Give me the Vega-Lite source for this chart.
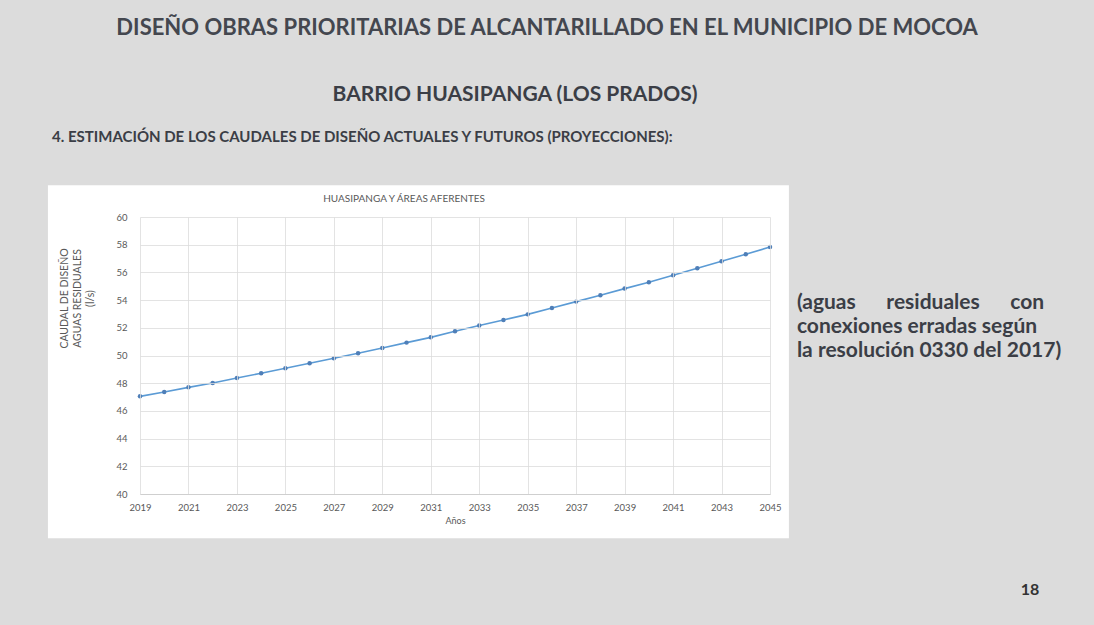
{
  "$schema": "https://vega.github.io/schema/vega-lite/v6.json",
  "width": 630,
  "height": 277,
  "autosize": {"type": "none"},
  "padding": {"left": 140, "top": 217, "right": 324, "bottom": 131},
  "background": "#dcdcdc",
  "config": {
    "view": {"stroke": null},
    "font": "Lato"
  },
  "resolve": {"axis": {"x": "independent", "y": "independent"}},
  "layer": [
    {
      "data": {"values": [{"panel": "chart"}]},
      "mark": {"type": "rect", "fill": "white"},
      "encoding": {
        "x": {"datum": 2015.2, "type": "quantitative", "scale": {"domain": [2019, 2045]}, "axis": null},
        "x2": {"datum": 2045.78},
        "y": {"datum": 62.29, "type": "quantitative", "scale": {"domain": [40, 60]}, "axis": null},
        "y2": {"datum": 36.8}
      }
    },
    {
      "data": {"values": [{"t": "DISEÑO OBRAS PRIORITARIAS DE ALCANTARILLADO EN EL MUNICIPIO DE MOCOA"}]},
      "mark": {"type": "text", "font": "Lato", "fontWeight": "bold", "fontSize": 22, "color": "#44474f", "align": "center", "baseline": "middle"},
      "encoding": {
        "x": {"datum": 2035.8, "type": "quantitative", "scale": {"domain": [2019, 2045]}, "axis": null},
        "y": {"datum": 73.62, "type": "quantitative", "scale": {"domain": [40, 60]}, "axis": null},
        "text": {"field": "t"}
      }
    },
    {
      "data": {"values": [{"t": "BARRIO HUASIPANGA (LOS PRADOS)"}]},
      "mark": {"type": "text", "font": "Lato", "fontWeight": "bold", "fontSize": 21, "color": "#3b3e46", "align": "center", "baseline": "middle"},
      "encoding": {
        "x": {"datum": 2034.48, "type": "quantitative", "scale": {"domain": [2019, 2045]}, "axis": null},
        "y": {"datum": 68.79, "type": "quantitative", "scale": {"domain": [40, 60]}, "axis": null},
        "text": {"field": "t"}
      }
    },
    {
      "data": {"values": [{"t": "4. ESTIMACIÓN DE LOS CAUDALES DE DISEÑO ACTUALES Y FUTUROS (PROYECCIONES):"}]},
      "mark": {"type": "text", "font": "Lato", "fontWeight": "bold", "fontSize": 15, "color": "#3b3e46", "align": "left", "baseline": "middle"},
      "encoding": {
        "x": {"datum": 2015.37, "type": "quantitative", "scale": {"domain": [2019, 2045]}, "axis": null},
        "y": {"datum": 65.75, "type": "quantitative", "scale": {"domain": [40, 60]}, "axis": null},
        "text": {"field": "t"}
      }
    },
    {
      "data": {"values": [{"t": ["(aguas\u00a0\u00a0\u00a0\u00a0\u00a0\u00a0residuales\u00a0\u00a0\u00a0\u00a0\u00a0\u00a0con", "conexiones erradas según", "la resolución 0330 del 2017)"]}]},
      "mark": {"type": "text", "font": "Lato", "fontWeight": "bold", "fontSize": 21, "letterSpacing": 1.5, "color": "#3b3e46", "align": "left", "baseline": "middle", "lineHeight": 24},
      "encoding": {
        "x": {"datum": 2046.11, "type": "quantitative", "scale": {"domain": [2019, 2045]}, "axis": null},
        "y": {"datum": 53.77, "type": "quantitative", "scale": {"domain": [40, 60]}, "axis": null},
        "text": {"field": "t"}
      }
    },
    {
      "data": {"values": [{"t": "18"}]},
      "mark": {"type": "text", "font": "Lato", "fontWeight": "bold", "fontSize": 16, "color": "#333333", "align": "center", "baseline": "middle"},
      "encoding": {
        "x": {"datum": 2055.73, "type": "quantitative", "scale": {"domain": [2019, 2045]}, "axis": null},
        "y": {"datum": 33.05, "type": "quantitative", "scale": {"domain": [40, 60]}, "axis": null},
        "text": {"field": "t"}
      }
    },
    {
      "data": {"values": [{"t": "HUASIPANGA Y ÁREAS AFERENTES"}]},
      "mark": {"type": "text", "font": "Lato", "fontSize": 10, "color": "#595959", "align": "center", "baseline": "middle"},
      "encoding": {
        "x": {"datum": 2029.9, "type": "quantitative", "scale": {"domain": [2019, 2045]}, "axis": null},
        "y": {"datum": 61.28, "type": "quantitative", "scale": {"domain": [40, 60]}, "axis": null},
        "text": {"field": "t"}
      }
    },
    {
      "data": {
        "values": [
          {"year": 2019, "caudal": 47.05},
          {"year": 2020, "caudal": 47.36},
          {"year": 2021, "caudal": 47.70},
          {"year": 2022, "caudal": 48.02},
          {"year": 2023, "caudal": 48.38},
          {"year": 2024, "caudal": 48.72},
          {"year": 2025, "caudal": 49.08},
          {"year": 2026, "caudal": 49.44},
          {"year": 2027, "caudal": 49.80},
          {"year": 2028, "caudal": 50.16},
          {"year": 2029, "caudal": 50.54},
          {"year": 2030, "caudal": 50.93},
          {"year": 2031, "caudal": 51.31},
          {"year": 2032, "caudal": 51.75},
          {"year": 2033, "caudal": 52.16},
          {"year": 2034, "caudal": 52.57},
          {"year": 2035, "caudal": 52.97},
          {"year": 2036, "caudal": 53.43},
          {"year": 2037, "caudal": 53.89},
          {"year": 2038, "caudal": 54.35},
          {"year": 2039, "caudal": 54.83},
          {"year": 2040, "caudal": 55.29},
          {"year": 2041, "caudal": 55.79},
          {"year": 2042, "caudal": 56.30},
          {"year": 2043, "caudal": 56.80},
          {"year": 2044, "caudal": 57.31},
          {"year": 2045, "caudal": 57.83}
        ]
      },
      "mark": {"type": "line", "color": "#5b9bd5", "strokeWidth": 1.6, "point": {"filled": true, "size": 20, "color": "#4f7fb8", "opacity": 1}},
      "encoding": {
        "x": {
          "field": "year",
          "type": "quantitative",
          "scale": {"domain": [2019, 2045], "nice": false, "zero": false},
          "axis": {
            "title": "Años",
            "orient": "bottom",
            "grid": true,
            "values": [2019, 2021, 2023, 2025, 2027, 2029, 2031, 2033, 2035, 2037, 2039, 2041, 2043, 2045],
            "format": "d",
            "ticks": false,
            "labelPadding": 8,
            "labelFont": "Lato",
            "labelFontSize": 9.5,
            "labelColor": "#595959",
            "labelFlush": false,
            "domainColor": "#cfcfcf",
            "gridColor": "#dcdcdc",
            "gridWidth": 0.8,
            "titleFont": "Lato",
            "titleFontSize": 9,
            "titleFontWeight": "normal",
            "titleColor": "#595959",
            "titlePadding": 5,
            "zindex": 1
          }
        },
        "y": {
          "field": "caudal",
          "type": "quantitative",
          "scale": {"domain": [40, 60], "nice": false, "zero": false},
          "axis": {
            "title": ["CAUDAL DE DISEÑO", "AGUAS RESIDUALES", "(l/s)"],
            "orient": "left",
            "grid": true,
            "values": [40, 42, 44, 46, 48, 50, 52, 54, 56, 58, 60],
            "ticks": false,
            "domain": false,
            "labelPadding": 13,
            "labelFont": "Lato",
            "labelFontSize": 9.5,
            "labelColor": "#595959",
            "gridColor": "#dcdcdc",
            "gridWidth": 0.8,
            "titleFont": "Lato",
            "titleFontSize": 10.5,
            "titleFontWeight": "normal",
            "titleColor": "#595959",
            "titleLineHeight": 13,
            "titlePadding": 20,
            "titleY": 81,
            "zindex": 1
          }
        }
      }
    }
  ]
}
